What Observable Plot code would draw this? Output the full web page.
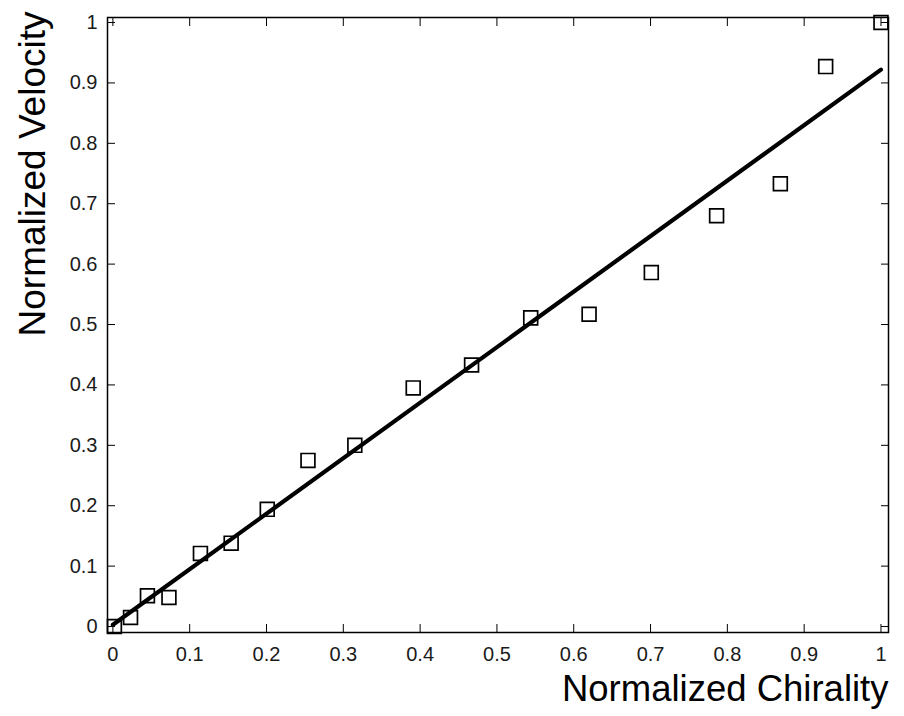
<!DOCTYPE html>
<html>
<head>
<meta charset="utf-8">
<script src="https://cdn.jsdelivr.net/npm/d3@7"></script>
<script src="https://cdn.jsdelivr.net/npm/@observablehq/plot@0.6"></script>
<style>
  html, body { margin: 0; padding: 0; background: #fff; }
  svg { display: block; }
</style>
</head>
<body>
<div id="chart"></div>
<script>
// Measured data (normalized chirality vs normalized velocity)
const chirality = [0.002, 0.023, 0.045, 0.073, 0.114, 0.154, 0.201, 0.254, 0.315, 0.391, 0.467, 0.544, 0.620, 0.701, 0.786, 0.869, 0.928, 1.0];
const velocity  = [0.000, 0.015, 0.051, 0.048, 0.121, 0.138, 0.194, 0.275, 0.300, 0.395, 0.433, 0.511, 0.517, 0.586, 0.680, 0.733, 0.927, 1.0];
// Linear fit endpoints
const fitX = [0.0, 1.0];
const fitY = [0.003, 0.922];
// Tick values
const xTicks = [0, 0.1, 0.2, 0.3, 0.4, 0.5, 0.6, 0.7, 0.8, 0.9, 1];
const yTicks = [0, 0.1, 0.2, 0.3, 0.4, 0.5, 0.6, 0.7, 0.8, 0.9, 1];
const xLabel = "Normalized Chirality";
const yLabel = "Normalized Velocity";

const points = chirality.map((x, i) => ({x, y: velocity[i]}));
const fit = fitX.map((x, i) => ({x, y: fitY[i]}));

const fmt = d3.format("~g");

const chart = Plot.plot({
  width: 904,
  height: 716,
  marginLeft: 107,
  marginRight: 16,
  marginTop: 17,
  marginBottom: 84,
  style: {background: "#fff", fontFamily: "Liberation Sans, Arial, sans-serif", fontSize: "20px", color: "#000"},
  x: {domain: [-0.007, 1.0098]},
  y: {domain: [-0.0099, 1.0083]},
  marks: [
    Plot.axisX({anchor: "bottom", ticks: xTicks, tickSize: -8, tickPadding: 22, tickFormat: fmt, label: null, fill: "#1a1a1a", fontSize: 20}),
    Plot.axisX({anchor: "top", ticks: xTicks, tickSize: -8, tickFormat: () => "", label: null}),
    Plot.axisY({anchor: "left", ticks: yTicks, tickSize: -8, tickPadding: 18, tickFormat: fmt, label: null, fill: "#1a1a1a", fontSize: 20}),
    Plot.axisY({anchor: "right", ticks: yTicks, tickSize: -8, tickFormat: () => "", label: null}),
    Plot.frame({stroke: "#000", strokeWidth: 1.5}),
    Plot.dot(points, {x: "x", y: "y", symbol: "square", r: 7.8, stroke: "#000", strokeWidth: 1.7, fill: "none"}),
    Plot.line(fit, {x: "x", y: "y", stroke: "#000", strokeWidth: 4.2}),
    Plot.text([xLabel], {frameAnchor: "bottom-right", text: d => d, textAnchor: "end", lineAnchor: "bottom", dy: 68, dx: 0, fontSize: 36.5, fill: "#000"}),
    Plot.text([yLabel], {frameAnchor: "left", text: d => d, rotate: -90, textAnchor: "middle", lineAnchor: "bottom", dx: -63, dy: -151, fontSize: 37, fill: "#000"})
  ]
});
document.getElementById("chart").appendChild(chart);
</script>
</body>
</html>
